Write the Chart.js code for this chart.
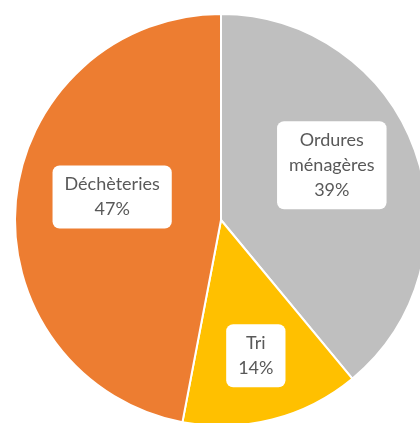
<!DOCTYPE html>
<html><head><meta charset="utf-8">
<script src="https://cdn.jsdelivr.net/npm/chart.js@4"></script>
<style>
html,body{margin:0;padding:0;background:#fff;overflow:hidden;width:420px;height:423px;}
#wrap{position:absolute;left:1px;top:0px;width:440px;height:440px;}
</style></head><body>
<div id="wrap"><canvas id="c" width="440" height="440"></canvas></div>
<script>
const categories = ["Ordures\nménagères", "Tri", "Déchèteries"];
const values = [39, 14, 47];
const percentLabels = ["39%", "14%", "47%"];
const colors = ["#BFBFBF", "#FFC000", "#ED7D31"];

// label placement (angle offset in degrees, radius fraction)
const labelPlacement = [
  {dAngle: -6.5, rFrac: 0.6},
  {dAngle: 0, rFrac: 0.68},
  {dAngle: 6.5, rFrac: 0.54}
];

const labelPlugin = {
  id: 'boxLabels',
  afterDatasetsDraw(chart) {
    const ctx = chart.ctx;
    const meta = chart.getDatasetMeta(0);
    ctx.save();
    ctx.font = '18px Lato';
    ctx.textAlign = 'center';
    ctx.textBaseline = 'middle';
    const lh = 25;
    meta.data.forEach((arc, i) => {
      const p = arc.getProps(['x','y','startAngle','endAngle','outerRadius'], true);
      const pl = labelPlacement[i];
      const mid = (p.startAngle + p.endAngle) / 2 + pl.dAngle * Math.PI / 180;
      const r = p.outerRadius * pl.rFrac;
      const cx = p.x + Math.cos(mid) * r;
      const cy = p.y + Math.sin(mid) * r;
      const lines = categories[i].split('\n').concat([percentLabels[i]]);
      let w = 0;
      lines.forEach(l => { w = Math.max(w, ctx.measureText(l).width); });
      const bw = w + 24, bh = lines.length * lh + 13;
      const bx = cx - bw / 2, by = cy - bh / 2;
      ctx.fillStyle = '#FFFFFF';
      ctx.beginPath();
      ctx.roundRect(bx, by, bw, bh, 7);
      ctx.fill();
      ctx.fillStyle = '#595959';
      lines.forEach((l, k) => {
        ctx.fillText(l, cx, cy + (k - (lines.length - 1) / 2) * lh);
      });
    });
    ctx.restore();
  }
};

new Chart(document.getElementById('c'), {
  type: 'pie',
  data: {
    labels: categories,
    datasets: [{
      data: values,
      backgroundColor: colors,
      borderColor: '#FFFFFF',
      borderWidth: 2
    }]
  },
  options: {
    responsive: false,
    animation: false,
    layout: {padding: 13},
    plugins: {legend: {display: false}, tooltip: {enabled: false}}
  },
  plugins: [labelPlugin]
});
</script>
</body></html>
